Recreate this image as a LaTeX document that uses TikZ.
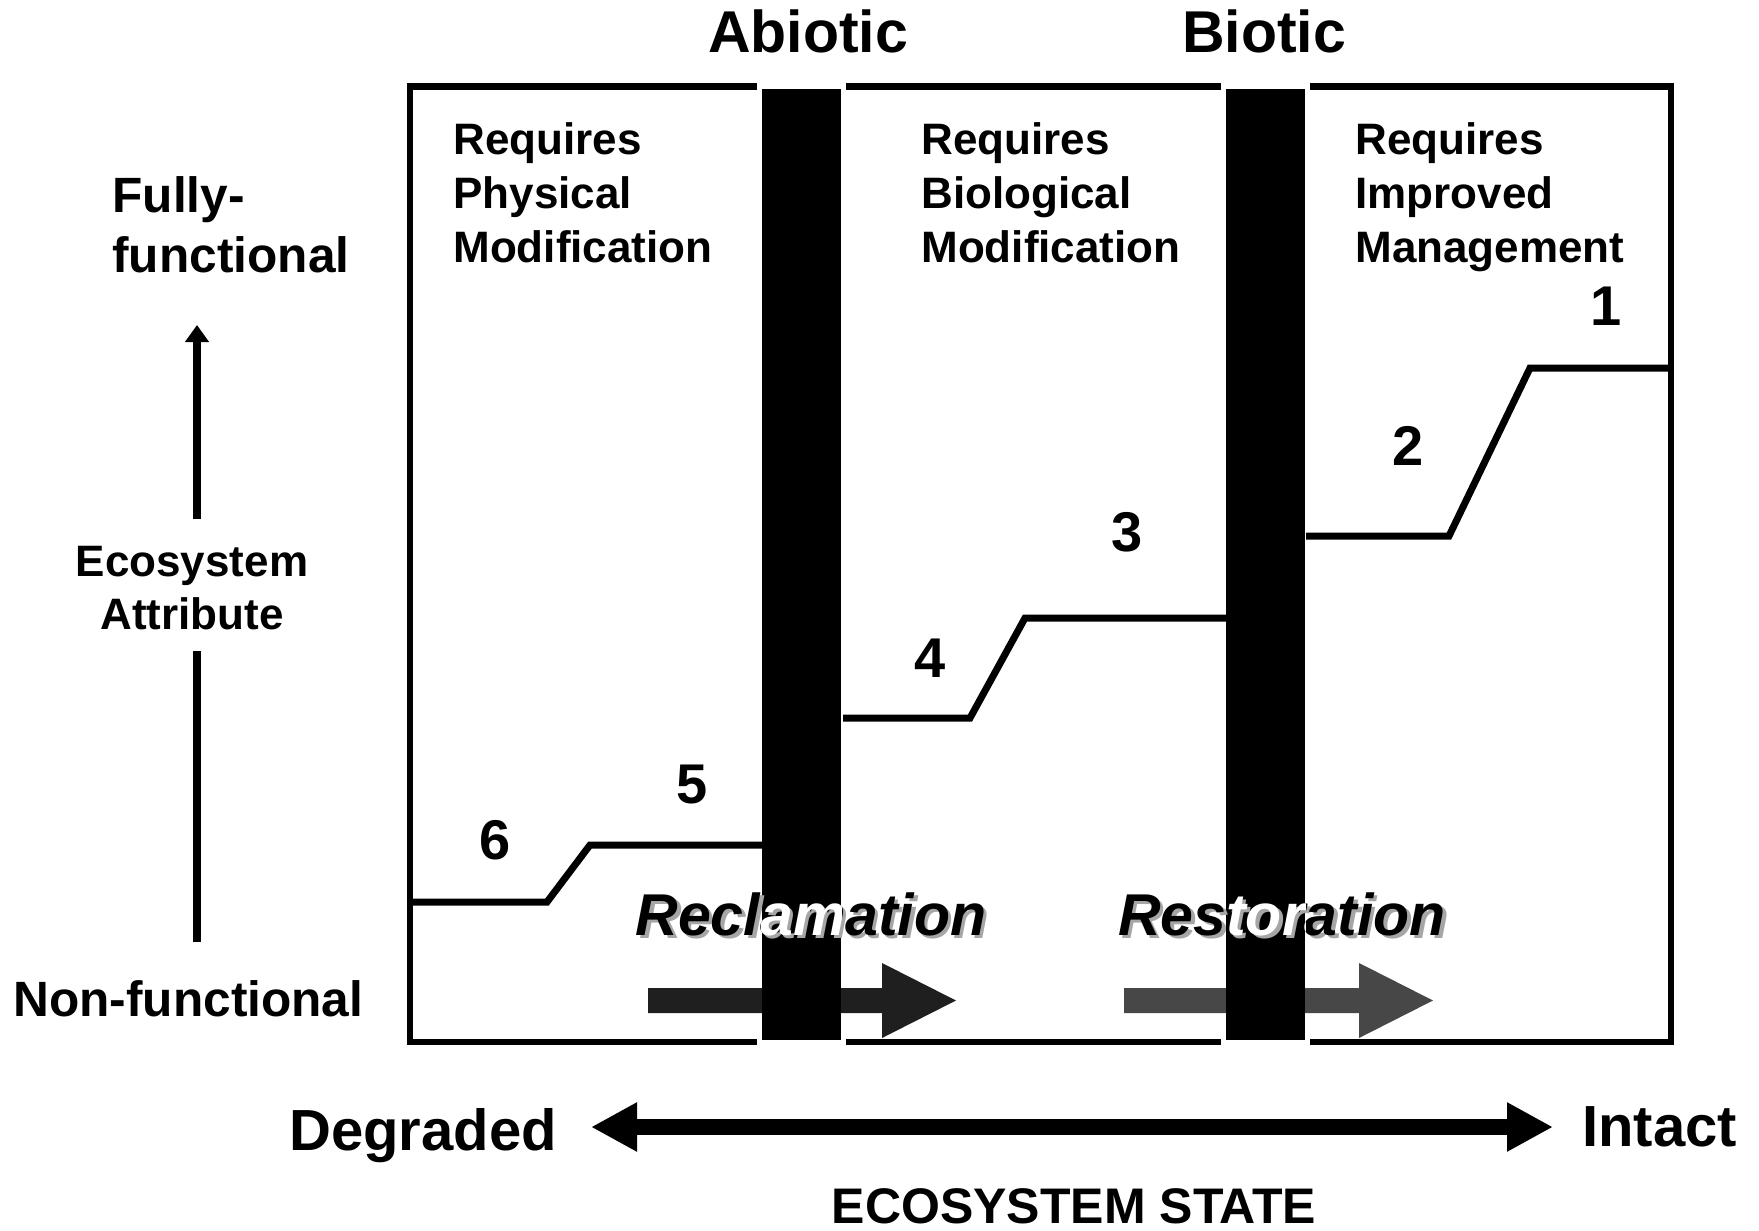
\documentclass[tikz,border=0pt]{standalone}
\usepackage{fontspec}
\setsansfont{Liberation Sans}
\usetikzlibrary{arrows.meta}

\begin{document}
\begin{tikzpicture}[x=0.5pt, y=-0.5pt, font=\sffamily\bfseries, >=Triangle,
head/.style={font=\sffamily\bfseries\fontsize{29.5}{34}\selectfont, anchor=base, inner sep=0pt},
req/.style={font=\sffamily\bfseries\fontsize{22}{27}\selectfont, anchor=base west, align=left, inner sep=0pt},
num/.style={font=\sffamily\bfseries\fontsize{28}{34}\selectfont, anchor=base, inner sep=0pt},
axislabel/.style={font=\sffamily\bfseries\fontsize{24.8}{30}\selectfont, anchor=base west, align=left, inner sep=0pt},
statelabel/.style={font=\sffamily\bfseries\fontsize{29}{34}\selectfont, anchor=base west, inner sep=0pt},
phase/.style={font=\sffamily\bfseries\itshape\fontsize{29.5}{35}\selectfont, anchor=base, inner sep=0pt},
shadow/.style={phase, text=black!35},
frame/.style={draw, line width=3.3pt},
level/.style={line width=3.5pt, line join=miter},
gap/.style={fill=white, minimum width=44.5pt, minimum height=481pt, inner sep=0pt},
bar/.style={fill=black, minimum width=39.5pt, minimum height=475.5pt, inner sep=0pt},
yaxis/.style={line width=4pt, -{Triangle[length=8.5pt, width=11.5pt]}},
xaxis/.style={line width=8pt, {Triangle[length=23pt, width=23pt]}-{Triangle[length=23pt, width=23pt]}}]

\useasboundingbox (0,0) rectangle (1759,1230);

% main frame, broken where the thresholds cross it
\draw[frame] (410,86.5) rectangle (1671,1042);
\node[gap] (agap) at (801.5,564) {};
\node[gap] (bgap) at (1265.5,564) {};

% attribute steps
\draw[level] (410,902) -- (547,902) -- (590,845) -- (762,845);
\draw[level] (843,718) -- (970,718) -- (1025,618) -- (1226,618);
\draw[level] (1306,536) -- (1449,536) -- (1530,368) -- (1671,368);

\node[req] (phys) at (453,262) {Requires\\Physical\\Modification};
\node[req] (biol) at (921,262) {Requires\\Biological\\Modification};
\node[req] (mgmt) at (1355,262) {Requires\\Improved\\Management};

\node[num] (n1) at (1606,325) {1};
\node[num] (n2) at (1408,465) {2};
\node[num] (n3) at (1127,551) {3};
\node[num] (n4) at (930,677) {4};
\node[num] (n5) at (692,803) {5};
\node[num] (n6) at (495,859) {6};

% block arrows
\fill[black!88] (648,988) -- (882,988) -- (882,963) -- (956,1000.5) -- (882,1038) -- (882,1013) -- (648,1013) -- cycle;
\fill[black!72] (1124,988) -- (1359,988) -- (1359,963) -- (1433,1000.5) -- (1359,1038) -- (1359,1013) -- (1124,1013) -- cycle;

\node[shadow] (reclsh) at (814.5,938.5) {Reclamation};
\node[phase] (recl) at (811,935) {Reclamation};
\node[shadow] (restsh) at (1285.5,938.5) {Restoration};
\node[phase] (rest) at (1282,935) {Restoration};

% threshold bars
\node[bar] (abar) at (801.5,564.5) {};
\node[bar] (bbar) at (1265.5,564.5) {};
\node[head] (abiotic) at (808,53) {Abiotic};
\node[head] (biotic) at (1264,53) {Biotic};

\begin{scope}
\clip (abar.south west) rectangle (abar.north east);
\node[shadow] at (814.5,938.5) {Reclamation};
\node[phase, text=white] at (811,935) {Reclamation};
\end{scope}
\begin{scope}
\clip (bbar.south west) rectangle (bbar.north east);
\node[shadow] at (1285.5,938.5) {Restoration};
\node[phase, text=white] at (1282,935) {Restoration};
\end{scope}

% vertical axis
\node[axislabel] (full) at (112,272) {Fully-\\functional};
\node[font=\sffamily\bfseries\fontsize{22}{26.5}\selectfont, align=center, anchor=base, inner sep=0pt] (attr) at (192,629) {Ecosystem\\Attribute};
\node[font=\sffamily\bfseries\fontsize{24.8}{28}\selectfont, anchor=base west, inner sep=0pt] (nonf) at (13,1016) {Non-functional};
\coordinate (ybot) at (197,942);
\coordinate (ylow) at (197,651);
\coordinate (yhigh) at (197,519);
\coordinate (ytop) at (197,325);
\draw[line width=4pt] (ybot) -- (ylow);
\draw[yaxis] (yhigh) -- (ytop);

% horizontal axis
\node[statelabel] (degr) at (289,1150) {Degraded};
\node[statelabel] (intact) at (1582,1146) {Intact};
\coordinate (xl) at (591,1127);
\coordinate (xr) at (1553,1127);
\draw[xaxis] (xl) -- (xr);
\node[font=\sffamily\bfseries\fontsize{25}{28}\selectfont, anchor=base, inner sep=0pt] (state) at (1074,1223) {ECOSYSTEM STATE};
\end{tikzpicture}
\end{document}
